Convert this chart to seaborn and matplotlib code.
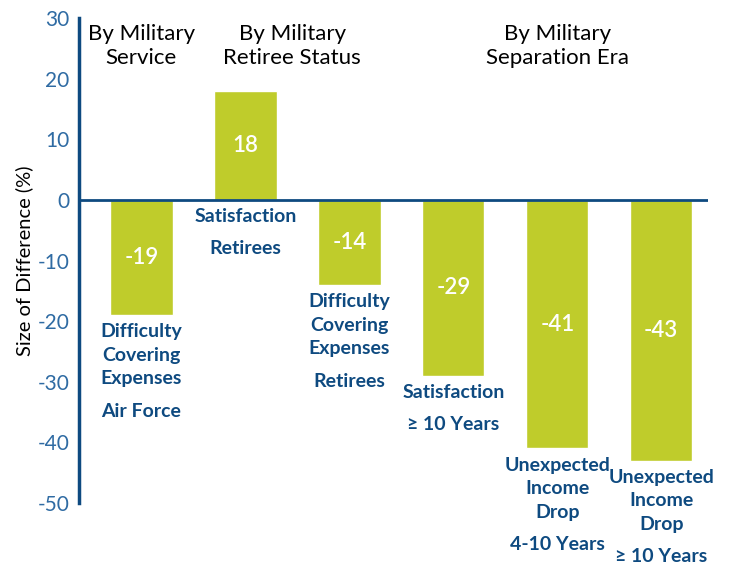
import matplotlib
matplotlib.use("Agg")
import matplotlib.pyplot as plt
import matplotlib.transforms as mtransforms
import seaborn as sns
import pandas as pd

# chart data
measures = ["Difficulty\nCovering\nExpenses", "Satisfaction",
            "Difficulty\nCovering\nExpenses", "Satisfaction",
            "Unexpected\nIncome\nDrop", "Unexpected\nIncome\nDrop"]
subgroups = ["Air Force", "Retirees", "Retirees",
             "\u2265 10 Years", "4-10 Years", "\u2265 10 Years"]
values = [-19, 18, -14, -29, -41, -43]
group_titles = ["By Military\nService", "By Military\nRetiree Status",
                "By Military\nSeparation Era"]
group_centers = [0, 1.45, 4]
y_ticks = [30, 20, 10, 0, -10, -20, -30, -40, -50]

GREEN = "#BFCC2B"
NAVY = "#0E4A80"
TICK_BLUE = "#2F6BA3"

sns.set_style("white")
plt.rcParams["font.family"] = ["Lato", "DejaVu Sans"]

df = pd.DataFrame({"bar": [str(i) for i in range(len(values))], "value": values})

fig = plt.figure(figsize=(7.34, 5.67), dpi=100)
ax = fig.add_axes([0.1076, 0.1129, 0.857, 0.855])

sns.barplot(data=df, x="bar", y="value", color=GREEN, saturation=1,
            width=0.6, ax=ax)

ax.set_ylim(-50, 30)
ax.set_xlim(-0.6, 5.45)
ax.set_yticks(y_ticks)
ax.set_yticklabels([str(t) for t in y_ticks])
ax.tick_params(axis="y", length=0, pad=7, labelsize=15, labelcolor=TICK_BLUE)
ax.set_xticks([])
ax.set_xlabel("")
ax.set_ylabel("Size of Difference (%)", fontsize=14.5, color="black", labelpad=3)

for side in ["top", "right", "bottom"]:
    ax.spines[side].set_visible(False)
ax.spines["left"].set_color(NAVY)
ax.spines["left"].set_linewidth(2.5)
ax.axhline(0, color=NAVY, lw=2, zorder=3)

px = 72 / 100  # points per pixel
for i, (v, m, s) in enumerate(zip(values, measures, subgroups)):
    # value inside the bar
    ax.text(i, v / 2, f"{v}", ha="center", va="center", color="white",
            fontsize=16, fontweight="semibold")
    anchor = min(v, 0)
    off = -6
    ax.annotate(m, (i, anchor), xytext=(0, off), textcoords="offset points",
                ha="center", va="top", color=NAVY, fontsize=14,
                fontweight="bold", linespacing=1.46)
    n = m.count("\n")
    ax.annotate(s, (i, anchor), xytext=(0, off - (n * 23.7 + 32) * px),
                textcoords="offset points", ha="center", va="top",
                color=NAVY, fontsize=14, fontweight="bold")

trans = mtransforms.blended_transform_factory(ax.transData, fig.transFigure)
for t, c in zip(group_titles, group_centers):
    ax.text(c, 1 - 46 / 567, t, transform=trans, ha="center", va="center",
            fontsize=16, color="black", linespacing=1.25)

fig.savefig("out.png", dpi=100)
